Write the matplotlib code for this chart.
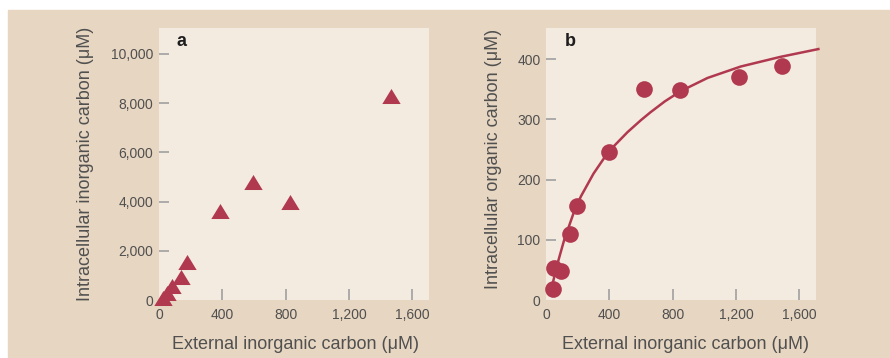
import matplotlib.pyplot as plt
from matplotlib.patches import Rectangle

plt.rcParams['font.family'] = ['Liberation Sans', 'DejaVu Sans']

# panel a: intracellular inorganic carbon vs external inorganic carbon
ext_a = [27, 50, 80, 136, 174, 383, 593, 826, 1467]
inorg_a = [80, 300, 560, 915, 1557, 3610, 4800, 4000, 8300]

# panel b: intracellular organic carbon vs external inorganic carbon
ext_b = [42, 48, 94, 151, 193, 396, 616, 849, 1220, 1490]
org_b = [19, 53, 48, 109, 156, 246, 350, 349, 370, 389]

# fitted saturation curve, read along its length
fit_x = [40, 70, 115, 175, 220, 300, 370, 430, 515, 600, 660, 750, 850, 1020, 1230, 1480, 1720]
fit_y = [25, 58, 100, 145, 172, 210, 237, 256, 279, 299, 312, 330, 347, 369, 388, 404, 417]

x_ticks = [0, 400, 800, 1200, 1600]
x_labels = ['0', '400', '800', '1,200', '1,600']
ya_ticks = [0, 2000, 4000, 6000, 8000, 10000]
ya_labels = ['0', '2,000', '4,000', '6,000', '8,000', '10,000']
yb_ticks = [0, 100, 200, 300, 400]
yb_labels = ['0', '100', '200', '300', '400']

red = '#b0394f'
panel_bg = '#f3ebdf'
tan = '#e7d6c1'
grey_text = '#505050'
tick_grey = '#9a9a9a'

W, H = 890, 358
fig = plt.figure(figsize=(W / 100, H / 100), dpi=100, facecolor='white')
fig.add_artist(Rectangle((8 / W, 0), 1 - 8 / W, (H - 10) / H,
                         transform=fig.transFigure, color=tan, zorder=-10))

ax_a = fig.add_axes([159 / W, (H - 300) / H, 270 / W, 272 / H])
ax_b = fig.add_axes([546 / W, (H - 300) / H, 270 / W, 272 / H])

tri = [(-1, -0.82), (1, -0.82), (0, 0.82)]
ax_a.plot(ext_a, inorg_a, linestyle='none', marker=tri, markersize=13.2,
          color=red, markeredgewidth=0, clip_on=False, zorder=3)

ax_b.plot(fit_x, fit_y, color=red, linewidth=1.8, clip_on=False, zorder=2)
ax_b.plot(ext_b, org_b, linestyle='none', marker='o', markersize=12,
          color=red, markeredgewidth=0, clip_on=False, zorder=3)

ax_a.set_xlim(8, 1706)
ax_a.set_ylim(0, 11050)
ax_b.set_xlim(5, 1705)
ax_b.set_ylim(0, 452)

ax_a.set_yticks(ya_ticks, ya_labels)
ax_b.set_yticks(yb_ticks, yb_labels)

for ax in (ax_a, ax_b):
    ax.set_facecolor(panel_bg)
    for s in ax.spines.values():
        s.set_visible(False)
    ax.set_xticks(x_ticks, x_labels)
    ax.tick_params(axis='x', direction='in', length=8, width=1.1,
                   color=tick_grey, labelcolor=grey_text, labelsize=10, pad=6)
    ax.tick_params(axis='y', direction='in', length=7, width=1.1,
                   color=tick_grey, labelcolor=grey_text, labelsize=10, pad=4)
    ax.xaxis.get_major_ticks()[0].tick1line.set_visible(False)
    ax.yaxis.get_major_ticks()[0].tick1line.set_visible(False)
    ax.set_xlabel('External inorganic carbon (μM)', fontsize=13, color=grey_text)

ax_a.set_ylabel('Intracellular inorganic carbon (μM)', fontsize=13, color=grey_text)
ax_b.set_ylabel('Intracellular organic carbon (μM)', fontsize=13, color=grey_text)

ax_a.xaxis.set_label_coords(0.504, -0.165)
ax_b.xaxis.set_label_coords(0.515, -0.165)
ax_a.yaxis.set_label_coords(-0.274, 0.5)
ax_b.yaxis.set_label_coords(-0.196, 0.52)
for lab in (ax_a.xaxis.label, ax_b.xaxis.label, ax_a.yaxis.label, ax_b.yaxis.label):
    lab.set_va('center')

ax_a.text(0.084, 0.95, 'a', transform=ax_a.transAxes, fontsize=13,
          fontweight='bold', color='#1e1e1e', ha='center', va='center')
ax_b.text(0.089, 0.95, 'b', transform=ax_b.transAxes, fontsize=13,
          fontweight='bold', color='#1e1e1e', ha='center', va='center')

fig.savefig('out.png', dpi=100, facecolor=fig.get_facecolor())
